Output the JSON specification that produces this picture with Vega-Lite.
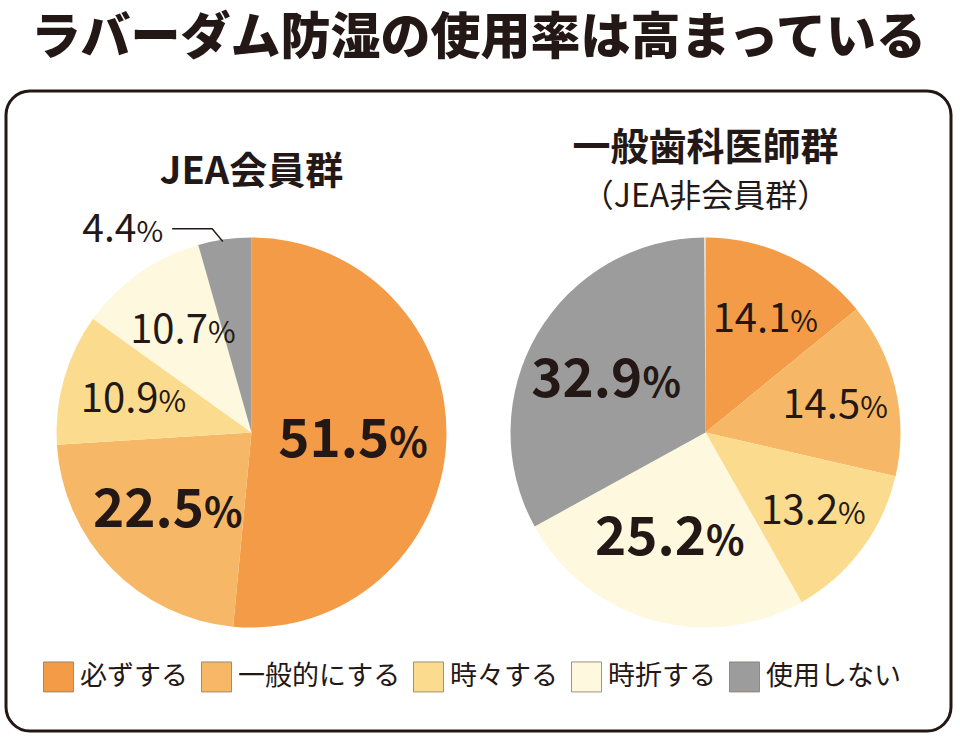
{
  "$schema": "https://vega.github.io/schema/vega-lite/v6.json",
  "width": 960,
  "height": 740,
  "autosize": {"type": "fit", "contains": "padding"},
  "padding": {"left": 6, "top": 14, "right": 9, "bottom": 9},
  "background": "#ffffff",
  "title": {
    "text": "ラバーダム防湿の使用率は高まっている",
    "font": "Noto Sans CJK JP",
    "fontSize": 50,
    "fontWeight": 900,
    "color": "#231815",
    "anchor": "middle",
    "offset": 27
  },
  "view": {"stroke": "#231815", "strokeWidth": 3, "cornerRadius": 24, "fill": "#ffffff"},
  "datasets": {
    "slices": [
      {"group": "JEA会員群", "category": "必ずする", "value": 51.5, "rank": 1},
      {"group": "JEA会員群", "category": "一般的にする", "value": 22.5, "rank": 2},
      {"group": "JEA会員群", "category": "時々する", "value": 10.9, "rank": 3},
      {"group": "JEA会員群", "category": "時折する", "value": 10.7, "rank": 4},
      {"group": "JEA会員群", "category": "使用しない", "value": 4.4, "rank": 5},
      {"group": "一般歯科医師群", "category": "必ずする", "value": 14.1, "rank": 1},
      {"group": "一般歯科医師群", "category": "一般的にする", "value": 14.5, "rank": 2},
      {"group": "一般歯科医師群", "category": "時々する", "value": 13.2, "rank": 3},
      {"group": "一般歯科医師群", "category": "時折する", "value": 25.2, "rank": 4},
      {"group": "一般歯科医師群", "category": "使用しない", "value": 32.9, "rank": 5}
    ],
    "groups": [
      {"group": "JEA会員群", "title": "JEA会員群", "sub": ""},
      {"group": "一般歯科医師群", "title": "一般歯科医師群", "sub": "（JEA非会員群）"}
    ]
  },
  "encoding": {
    "x": {
      "field": "group",
      "type": "nominal",
      "scale": {"type": "point", "domain": ["JEA会員群", "一般歯科医師群"], "padding": 0.5407},
      "axis": null
    },
    "y": {
      "datum": 0,
      "type": "quantitative",
      "scale": {"domain": [-1, 1.144]},
      "axis": null
    }
  },
  "layer": [
    {
      "data": {"name": "slices"},
      "transform": [{"filter": "datum.group == 'JEA会員群'"}],
      "encoding": {
        "theta": {"field": "value", "type": "quantitative", "stack": true},
        "order": {"field": "rank", "type": "quantitative"}
      },
      "layer": [
        {
          "mark": {"type": "arc", "outerRadius": 195},
          "encoding": {
            "color": {
              "field": "category",
              "type": "nominal",
              "scale": {
                "domain": ["必ずする", "一般的にする", "時々する", "時折する", "使用しない"],
                "range": ["#f39b47", "#f6b866", "#fbdc8f", "#fef8df", "#9c9c9c"]
              },
              "legend": {
                "title": null,
                "orient": "bottom-left",
                "direction": "horizontal",
                "offset": 37,
                "symbolType": "square",
                "symbolSize": 900,
                "symbolStrokeColor": "#8a7a5c",
                "symbolStrokeWidth": 0.8,
                "labelFont": "Noto Sans CJK JP",
                "labelFontSize": 27,
                "labelLimit": 300,
                "labelColor": "#231815",
                "labelOffset": 6,
                "columnPadding": 11
              }
            }
          }
        },
        {
          "mark": {"type": "text", "radius": 108, "align": "right", "baseline": "alphabetic", "dx": 30, "dy": 19, "font": "Noto Sans CJK JP", "fontSize": 53, "fontWeight": "bold", "color": "#231815"},
          "encoding": {"text": {"condition": {"test": "datum.value >= 20", "field": "value", "type": "quantitative", "format": ".1f"}, "value": ""}}
        },
        {
          "mark": {"type": "text", "radius": 108, "align": "left", "baseline": "alphabetic", "dx": 30, "dy": 19, "font": "Noto Sans CJK JP", "fontSize": 40, "fontWeight": "bold", "color": "#231815"},
          "encoding": {"text": {"condition": {"test": "datum.value >= 20", "value": "%"}, "value": ""}}
        },
        {
          "mark": {"type": "text", "radius": 128, "align": "right", "baseline": "alphabetic", "dx": 30, "dy": 15, "font": "Noto Sans CJK JP", "fontSize": 40, "color": "#231815"},
          "encoding": {"text": {"condition": {"test": "datum.value < 20 && datum.value >= 5", "field": "value", "type": "quantitative", "format": ".1f"}, "value": ""}}
        },
        {
          "mark": {"type": "text", "radius": 128, "align": "left", "baseline": "alphabetic", "dx": 30, "dy": 15, "font": "Noto Sans CJK JP", "fontSize": 30, "color": "#231815"},
          "encoding": {"text": {"condition": {"test": "datum.value < 20 && datum.value >= 5", "value": "%"}, "value": ""}}
        }
      ]
    },
    {
      "data": {"name": "slices"},
      "transform": [{"filter": "datum.group == '一般歯科医師群'"}],
      "encoding": {
        "theta": {"field": "value", "type": "quantitative", "stack": true},
        "order": {"field": "rank", "type": "quantitative"}
      },
      "layer": [
        {
          "mark": {"type": "arc", "outerRadius": 195},
          "encoding": {"color": {"field": "category", "type": "nominal"}}
        },
        {
          "mark": {"type": "text", "radius": 108, "align": "right", "baseline": "alphabetic", "dx": 30, "dy": 19, "font": "Noto Sans CJK JP", "fontSize": 53, "fontWeight": "bold", "color": "#231815"},
          "encoding": {"text": {"condition": {"test": "datum.value >= 20", "field": "value", "type": "quantitative", "format": ".1f"}, "value": ""}}
        },
        {
          "mark": {"type": "text", "radius": 108, "align": "left", "baseline": "alphabetic", "dx": 30, "dy": 19, "font": "Noto Sans CJK JP", "fontSize": 40, "fontWeight": "bold", "color": "#231815"},
          "encoding": {"text": {"condition": {"test": "datum.value >= 20", "value": "%"}, "value": ""}}
        },
        {
          "mark": {"type": "text", "radius": 128, "align": "right", "baseline": "alphabetic", "dx": 30, "dy": 15, "font": "Noto Sans CJK JP", "fontSize": 40, "color": "#231815"},
          "encoding": {"text": {"condition": {"test": "datum.value < 20", "field": "value", "type": "quantitative", "format": ".1f"}, "value": ""}}
        },
        {
          "mark": {"type": "text", "radius": 128, "align": "left", "baseline": "alphabetic", "dx": 30, "dy": 15, "font": "Noto Sans CJK JP", "fontSize": 30, "color": "#231815"},
          "encoding": {"text": {"condition": {"test": "datum.value < 20", "value": "%"}, "value": ""}}
        }
      ]
    },
    {
      "data": {"name": "slices"},
      "transform": [{"filter": "datum.value < 5"}],
      "layer": [
        {
          "mark": {"type": "point", "shape": "M -0.1196 -0.7958 L -0.1638 -0.8488 L -0.3304 -0.8488", "size": 230400, "filled": false, "stroke": "#231815", "strokeWidth": 1.4, "opacity": 1}
        },
        {
          "mark": {"type": "text", "align": "right", "baseline": "alphabetic", "dx": -115, "dy": -190, "font": "Noto Sans CJK JP", "fontSize": 39, "color": "#231815"},
          "encoding": {"text": {"field": "value", "type": "quantitative", "format": ".1f"}}
        },
        {
          "mark": {"type": "text", "align": "left", "baseline": "alphabetic", "dx": -115, "dy": -190, "font": "Noto Sans CJK JP", "fontSize": 29, "color": "#231815"},
          "encoding": {"text": {"value": "%"}}
        }
      ]
    },
    {
      "data": {"name": "groups"},
      "layer": [
        {
          "transform": [{"filter": "datum.sub == ''"}],
          "mark": {"type": "text", "radius": 259, "align": "center", "baseline": "middle", "font": "Noto Sans CJK JP", "fontSize": 38, "fontWeight": "bold", "color": "#231815"},
          "encoding": {"text": {"field": "title"}}
        },
        {
          "transform": [{"filter": "datum.sub != ''"}],
          "mark": {"type": "text", "radius": 283, "align": "center", "baseline": "middle", "font": "Noto Sans CJK JP", "fontSize": 38, "fontWeight": "bold", "color": "#231815"},
          "encoding": {"text": {"field": "title"}}
        },
        {
          "transform": [{"filter": "datum.sub != ''"}],
          "mark": {"type": "text", "radius": 235, "align": "center", "baseline": "middle", "font": "Noto Sans CJK JP", "fontSize": 32, "color": "#231815"},
          "encoding": {"text": {"field": "sub"}}
        }
      ]
    }
  ]
}
